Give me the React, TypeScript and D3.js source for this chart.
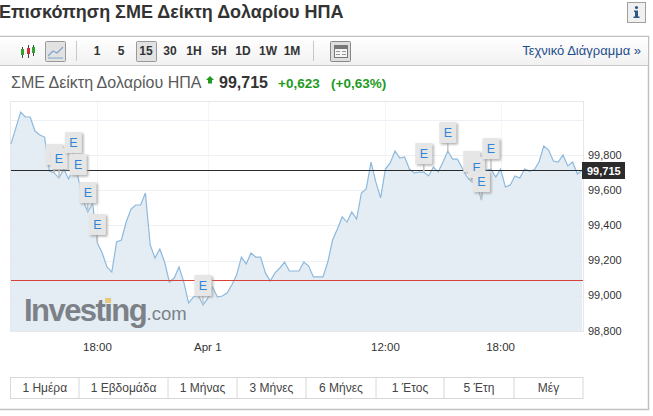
import React from "react";
import * as d3 from "d3";

const values = [
  99.863, 99.953, 100.044, 100.016, 100.016, 99.936, 99.914, 99.902, 99.709, 99.698,
  99.669, 99.72, 99.664, 99.726, 99.669, 99.544, 99.476, 99.527, 99.3, 99.243,
  99.164, 99.135, 99.306, 99.317, 99.419, 99.493, 99.516, 99.516, 99.584, 99.289,
  99.215, 99.266, 99.192, 99.078, 99.101, 99.164, 99.078, 98.959, 98.993, 99.005,
  98.948, 98.987, 99.05, 98.993, 98.999, 99.016, 99.061, 99.118, 99.22, 99.181,
  99.243, 99.22, 99.22, 99.13, 99.084, 99.13, 99.158, 99.192, 99.141, 99.141,
  99.141, 99.192, 99.169, 99.107, 99.107, 99.107, 99.192, 99.317, 99.38, 99.448,
  99.419, 99.476, 99.436, 99.584, 99.607, 99.76, 99.647, 99.556, 99.72, 99.755,
  99.823, 99.783, 99.789, 99.72, 99.698, 99.703, 99.703, 99.681, 99.732, 99.703,
  99.76, 99.823, 99.777, 99.777, 99.726, 99.675, 99.647, 99.641, 99.544, 99.715,
  99.72, 99.675, 99.72, 99.618, 99.63, 99.681, 99.669, 99.72, 99.709, 99.715,
  99.76, 99.851, 99.828, 99.766, 99.76, 99.8, 99.738, 99.76, 99.692, 99.715,
];
const lastValue = 99.715;
const prevClose = 99.092;
const yTicks = [100.0, 99.8, 99.6, 99.4, 99.2, 99.0, 98.8];
const yTickLabels = ["", "99,800", "99,600", "99,400", "99,200", "99,000", "98,800"];
const xTickIndex = [18, 41, 78, 102];
const xTickLabels = ["18:00", "Apr 1", "12:00", "18:00"];
const flagIndex = [9, 10, 13, 14, 16, 18, 40, 86, 91, 96, 97, 98, 100];
const flagStem = [8, 9, 15, 3, 9, 8, 9, 8, 8, 10, 5, 8, 10];
const intervals = ["1", "5", "15", "30", "1H", "5H", "1D", "1W", "1M"];
const ranges = ["1 Ημέρα", "1 Εβδομάδα", "1 Μήνας", "3 Μήνες", "6 Μήνες", "1 Έτος", "5 Έτη", "Μέγ"];
const rangeEdges = [10.5, 79, 168, 237, 306, 376, 444, 514, 583];
const intervalX = [97, 121, 146, 170, 194, 219, 243, 268, 292];

const FONT = "'Liberation Sans', Arial, sans-serif";

export default function App() {
  const x = d3.scaleLinear().domain([0, values.length - 1]).range([11, 582.2]);
  const y = d3.scaleLinear().domain([98.8, 99.8]).range([331, 155]);
  const line = d3.line<number>().x((_, i) => x(i)).y((d) => y(d));
  const area = d3
    .area<number>()
    .x((_, i) => x(i))
    .y0(331)
    .y1((d) => y(d));

  return (
    <svg
      width={653}
      height={416}
      style={{ position: "absolute", left: 0, top: 0, background: "#fff" }}
      fontFamily={FONT}
    >
      <defs>
        <linearGradient id="tb" x1="0" x2="0" y1="0" y2="1">
          <stop offset="0" stopColor="#ffffff" />
          <stop offset="1" stopColor="#f1f1f1" />
        </linearGradient>
        <filter id="sh" x="-20%" y="-20%" width="150%" height="150%">
          <feDropShadow dx="1.5" dy="1.5" stdDeviation="0.8" floodColor="#999" floodOpacity="0.8" />
        </filter>
      </defs>

      <text x={-1} y={18} fontSize={18} fontWeight="bold" fill="#333">
        Επισκόπηση ΣΜΕ Δείκτη Δολαρίου ΗΠΑ
      </text>

      {/* info button */}
      <rect x={627.5} y={2.5} width={18} height={20} fill="#f0f0f0" stroke="#a0a0a0" />
      <circle cx={636.5} cy={7.5} r={1.6} fill="#2a5a85" />
      <path d="M634 10.5H638V16.5H639.5V18H633.5V16.5H635V12H634Z" fill="#2a5a85" />

      {/* panel */}
      <path d="M0 36.5H648.5V409.5H0" fill="none" stroke="#c0c0c0" strokeWidth={1.5} />
      <rect x={0} y={37} width={648} height={28} fill="url(#tb)" />
      <line x1={0} x2={648} y1={65.5} y2={65.5} stroke="#c8c8c8" />

      {/* toolbar icons */}
      <g strokeWidth={1}>
        <line x1={22.5} x2={22.5} y1={47} y2={58} stroke="#444" />
        <rect x={21} y={49} width={3} height={6} fill="#2fa52f" />
        <line x1={28.5} x2={28.5} y1={45} y2={58} stroke="#444" />
        <rect x={27} y={48} width={3} height={6} fill="#d03030" />
        <line x1={33.5} x2={33.5} y1={45} y2={56} stroke="#444" />
        <rect x={32} y={47} width={3} height={6} fill="#2fa52f" />
      </g>
      <rect x={45.5} y={41.5} width={20} height={20} rx={1} fill="#e2e2e2" stroke="#999" />
      <path d="M48 56 L53 51 L57 53 L63 47" fill="none" stroke="#7ea6cc" strokeWidth={1.2} />
      <line x1={48} x2={63} y1={58} y2={58} stroke="#7ea6cc" />
      <line x1={76.5} x2={76.5} y1={41} y2={61} stroke="#c8c8c8" />
      <rect x={136.5} y={41.5} width={20} height={20} rx={1} fill="#e2e2e2" stroke="#999" />
      {intervals.map((t, i) => (
        <text key={i} x={intervalX[i]} y={55} textAnchor="middle" fontSize={12} fontWeight="bold" fill="#333">
          {t}
        </text>
      ))}
      <line x1={313.5} x2={313.5} y1={41} y2={61} stroke="#c8c8c8" />
      <rect x={330.5} y={41.5} width={20} height={20} rx={1} fill="#dedede" stroke="#888" />
      <rect x={334.5} y={45.5} width={13} height={12} fill="#f4f4f4" stroke="#777" />
      <rect x={335} y={46} width={12} height={3} fill="#777" />
      <path d="M336 51.5H340M336 54.5H340M342 51.5H346M342 54.5H346" stroke="#999" />
      <text x={641} y={55} textAnchor="end" fontSize={13} fill="#1f4e8c">
        Τεχνικό Διάγραμμα »
      </text>

      {/* quote line */}
      <text x={11} y={88} fontSize={16} fill="#5a5a5a">
        ΣΜΕ Δείκτη Δολαρίου ΗΠΑ
      </text>
      <path d="M206 80 L210 76 L214 80 L212 80 L212 83.5 L208 83.5 L208 80 Z" fill="#1e9a1e" />
      <text x={219} y={88} fontSize={16} fontWeight="bold" fill="#333">
        99,715
      </text>
      <text x={278} y={88} fontSize={13.5} fontWeight="bold" fill="#1e9a1e">
        +0,623
      </text>
      <text x={331} y={88} fontSize={13.5} fontWeight="bold" fill="#1e9a1e">
        (+0,63%)
      </text>

      {/* plot */}
      <rect x={10.5} y={101.5} width={573} height={230} fill="#fff" stroke="#e8e8e8" />
      {yTicks.slice(0, 6).map((t) => (
        <line key={t} x1={11} x2={583} y1={Math.round(y(t)) + 0.5} y2={Math.round(y(t)) + 0.5} stroke="#f3f5f7" />
      ))}
      {xTickIndex.map((t) => (
        <line key={t} x1={Math.round(x(t)) + 0.5} x2={Math.round(x(t)) + 0.5} y1={102} y2={331} stroke="#f3f5f7" />
      ))}
      <path d={area(values) ?? ""} fill="#e4edf3" />
      {yTicks.slice(0, 6).map((t) => (
        <line key={"o" + t} x1={11} x2={583} y1={Math.round(y(t)) + 0.5} y2={Math.round(y(t)) + 0.5} stroke="#e2e9ef" strokeOpacity={0.35} />
      ))}

      {/* logo */}
      <text x={24} y={321} fontSize={31} fontWeight="bold" fill="#7c8188" letterSpacing={-1.55}>
        Investing
      </text>
      <rect x={105} y={298} width={6} height={5} fill="#e8c87a" />
      <text x={146.5} y={320} fontSize={18.5} fill="#7c8188">
        .com
      </text>

      <path d={line(values) ?? ""} fill="none" stroke="#8db9de" strokeWidth={1.2} />
      <line x1={11} x2={583} y1={Math.round(y(prevClose)) + 0.5} y2={Math.round(y(prevClose)) + 0.5} stroke="#d8403c" strokeWidth={1} />
      <line x1={11} x2={583} y1={Math.round(y(lastValue)) + 0.5} y2={Math.round(y(lastValue)) + 0.5} stroke="#2a2a2a" strokeWidth={1} />

      {/* event flags */}
      {flagIndex.map((idx, i) => {
        const px = x(idx);
        const py = y(values[idx]);
        const bottom = py - flagStem[i];
        return (
          <g key={idx}>
            <line x1={px} x2={px} y1={bottom} y2={py} stroke="#c4c4c4" strokeWidth={1.5} />
            <rect x={px - 8.5} y={bottom - 21} width={17} height={21} fill="#e6e6e6" filter="url(#sh)" />
            <text x={px} y={bottom - 6} textAnchor="middle" fontSize={12.5} fill="#2f86d6">
              E
            </text>
          </g>
        );
      })}

      {/* y axis labels */}
      {yTicks.map((t, i) => (
        <text key={t} x={588} y={y(t) + 3.5} fontSize={11} fill="#333">
          {yTickLabels[i]}
        </text>
      ))}
      <rect x={582} y={162} width={43} height={17} fill="#2b2b2b" />
      <text x={587} y={175} fontSize={11} fontWeight="bold" fill="#fff">
        99,715
      </text>

      {/* x axis labels */}
      {xTickIndex.map((t, i) => (
        <text key={t} x={x(t)} y={351} textAnchor="middle" fontSize={11.5} fill="#333">
          {xTickLabels[i]}
        </text>
      ))}

      {/* range buttons */}
      <rect x={10.5} y={377.5} width={572.5} height={21} fill="#fff" stroke="#d8d8d8" />
      {ranges.map((r, i) => (
        <g key={r}>
          {i > 0 && <line x1={rangeEdges[i]} x2={rangeEdges[i]} y1={378} y2={398} stroke="#d8d8d8" />}
          <text x={(rangeEdges[i] + rangeEdges[i + 1]) / 2} y={392} textAnchor="middle" fontSize={12} fill="#444">
            {r}
          </text>
        </g>
      ))}
    </svg>
  );
}
